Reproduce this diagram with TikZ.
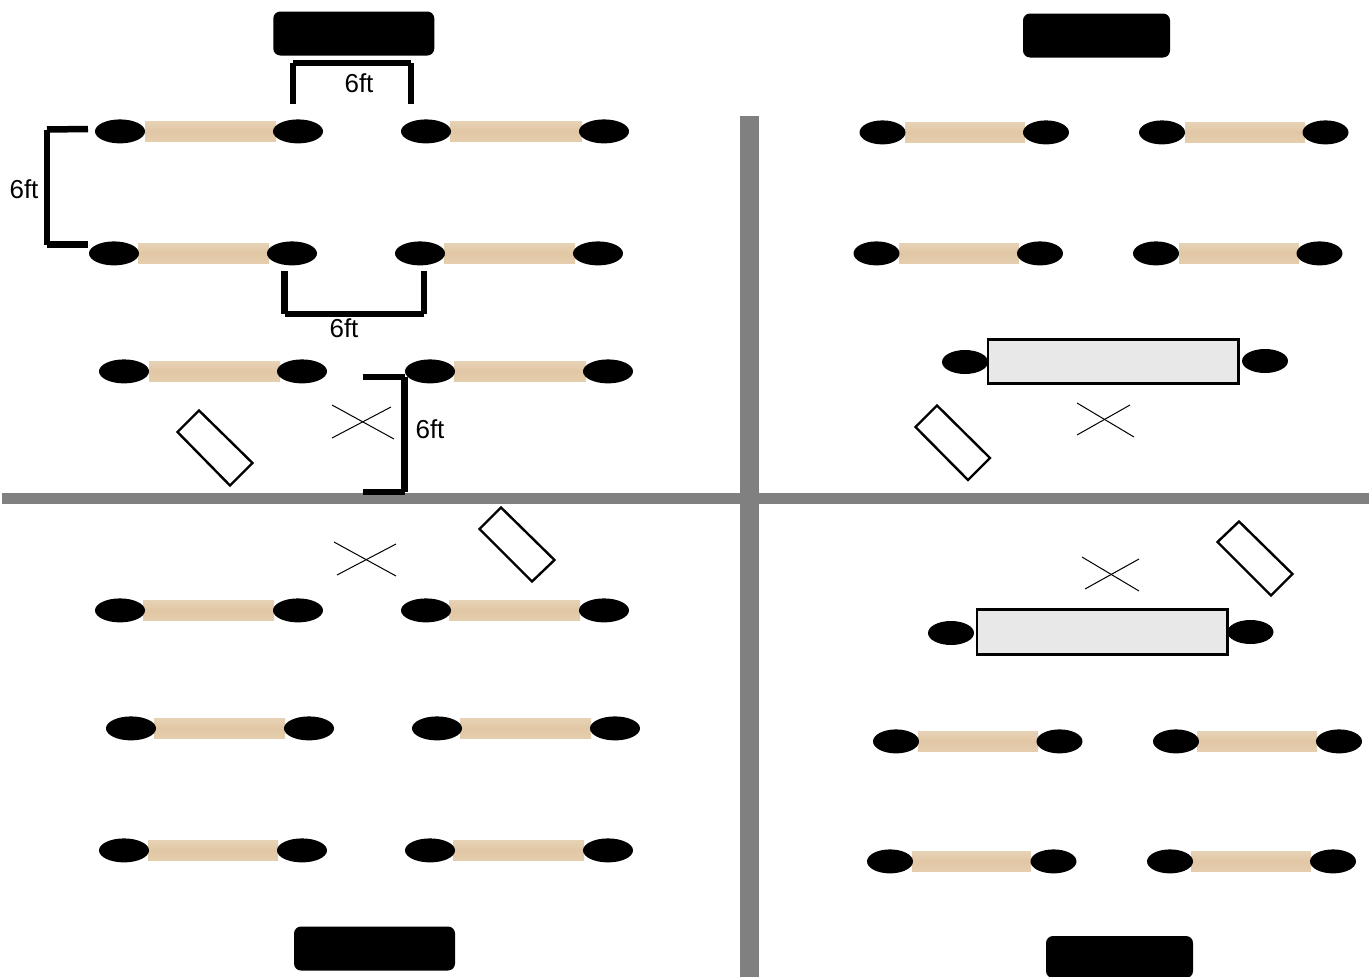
\documentclass[tikz,border=0pt]{standalone}
\usepackage{fontspec}
\setmainfont{Liberation Sans}
\usetikzlibrary{shapes.geometric}
\definecolor{woodlight}{HTML}{E7D2B6}
\definecolor{woodmid}{HTML}{E1C7A4}
\definecolor{wooddark}{HTML}{E5CEAF}
\definecolor{divider}{HTML}{808080}
\definecolor{stone}{HTML}{E8E8E8}
\tikzset{
  seat/.style={ellipse,fill=black,draw=none,inner sep=0pt,outer sep=0pt,minimum height=24pt},
  wood/.style={rectangle,inner sep=0pt,outer sep=0pt,draw=none,minimum height=20.5pt,
    top color=woodlight,bottom color=wooddark,middle color=woodmid},
  stonetable/.style={rectangle,inner sep=0pt,outer sep=0pt,draw=black,line width=2.8pt,fill=stone},
  board/.style={rectangle,rounded corners=7pt,fill=black,draw=none,inner sep=0pt,outer sep=0pt},
  bracket/.style={draw=black,line width=6.5pt,line cap=butt},
  crossline/.style={draw=black,line width=1pt},
  mat/.style={draw=black,line width=2.4pt,line join=miter,fill=white},
  dim/.style={inner sep=0pt,font=\fontsize{26}{30}\selectfont},
  wall/.style={fill=divider,draw=none}
}
% name, left seat x, table x0, table x1, right seat x, y, seat width
\newcommand{\deskrow}[7]{%
  \pgfmathsetmacro{\tcx}{(#3+#4)/2}%
  \pgfmathsetmacro{\tw}{#4-#3}%
  \node[wood,minimum width=\tw pt] (#1t) at (\tcx,#6+0.4) {};
  \node[seat,minimum width=#7pt] (#1l) at (#2,#6+0.4) {};
  \node[seat,minimum width=#7pt] (#1r) at (#5,#6+0.4) {};
}
\begin{document}
\begin{tikzpicture}[x=1pt,y=-1pt]
\useasboundingbox (0,0) rectangle (1369,977);
% dividers
\fill[wall] (740,116) rectangle (759,977);
\fill[wall] (2,493) rectangle (1369,504);
% boards
\node[board,minimum width=161pt,minimum height=44pt] (boardA) at (353.8,33.5) {};
\node[board,minimum width=147pt,minimum height=44pt] (boardB) at (1096.5,35.5) {};
\node[board,minimum width=161pt,minimum height=44pt] (boardC) at (374.5,948.5) {};
\node[board,minimum width=147pt,minimum height=42pt] (boardD) at (1119.5,957) {};
% top-left desks
\deskrow{a1}{120}{145}{276}{298}{131}{50}
\deskrow{a2}{426}{450}{582}{604}{131}{50}
\deskrow{a3}{114}{138}{269}{292}{253}{50}
\deskrow{a4}{420}{444}{575}{598}{253}{50}
\deskrow{a5}{124}{149}{280}{302}{371}{50}
\deskrow{a6}{430}{454}{586}{608}{371}{50}
% bottom-left desks
\deskrow{b1}{120}{143}{274}{298}{610}{50}
\deskrow{b2}{426}{449}{580}{604}{610}{50}
\deskrow{b3}{131}{154}{285}{309}{728}{50}
\deskrow{b4}{437}{460}{591}{615}{728}{50}
\deskrow{b5}{124}{148}{278}{302}{850}{50}
\deskrow{b6}{430}{453}{584}{608}{850}{50}
% top-right desks
\deskrow{c1}{882.5}{905}{1025}{1046}{132}{46}
\deskrow{c2}{1162}{1185}{1305}{1325.5}{132}{46}
\deskrow{c3}{876.5}{899}{1019}{1040}{253}{46}
\deskrow{c4}{1156}{1179}{1299}{1319.5}{253}{46}
% bottom-right desks
\deskrow{d1}{896}{918}{1038}{1059.5}{741}{46}
\deskrow{d2}{1176}{1197}{1317}{1339}{741}{46}
\deskrow{d3}{890}{912}{1031}{1053.5}{861}{46}
\deskrow{d4}{1170}{1191}{1311}{1333}{861}{46}
% stone tables
\node[seat,minimum width=46pt] (cl) at (965,362) {};
\node[seat,minimum width=46pt] (cr) at (1265,361) {};
\node[stonetable,minimum width=250.5pt,minimum height=44.5pt] (ct) at (1113.2,361.5) {};
\node[seat,minimum width=46pt] (dl) at (951,633) {};
\node[seat,minimum width=46pt] (dr) at (1250.5,632) {};
\node[stonetable,minimum width=250.5pt,minimum height=44.5pt] (dt) at (1102.2,632) {};
% mats
\path[mat] (199,410.5) -- (177.5,432) -- (230,485.5) -- (252.5,463) -- cycle;
\path[mat] (937,405.5) -- (915.5,427) -- (968,480) -- (990,458) -- cycle;
\path[mat] (501,507.5) -- (479.5,529) -- (532,581.5) -- (554.5,560) -- cycle;
\path[mat] (1239,521.5) -- (1217.5,542) -- (1271,595.5) -- (1292.5,574) -- cycle;
% crosses
\draw[crossline] (332,405) -- (394,439);
\draw[crossline] (332,438) -- (391,407);
\draw[crossline] (1077,403) -- (1134,437);
\draw[crossline] (1077,435) -- (1130,405);
\draw[crossline] (334,542) -- (396,576);
\draw[crossline] (337,575) -- (396,544);
\draw[crossline] (1082,557) -- (1139,591);
\draw[crossline] (1085,589) -- (1139,559);
% brackets, each side a separate stroke with notched corners
\path[bracket] (293,104) -- (293,63);
\path[bracket] (293,63) -- (411,63);
\path[bracket] (411,63) -- (411,104);
\path[bracket] (88,129) -- (47,129.5);
\path[bracket] (47,129.5) -- (47,244.5);
\path[bracket] (47,244.5) -- (88,244.5);
\path[bracket] (284.5,271) -- (284.5,314);
\path[bracket] (284.5,314) -- (424,314);
\path[bracket] (424,314) -- (424,271);
\path[bracket] (363,377) -- (404.5,377);
\path[bracket] (404.5,377) -- (404.5,492);
\path[bracket] (404.5,492) -- (363,492);
% labels
\node[dim] (la) at (359,83.5) {6ft};
\node[dim] (lb) at (24,189.5) {6ft};
\node[dim] (lc) at (344,328.5) {6ft};
\node[dim] (ld) at (430,429.5) {6ft};
\end{tikzpicture}
\end{document}
